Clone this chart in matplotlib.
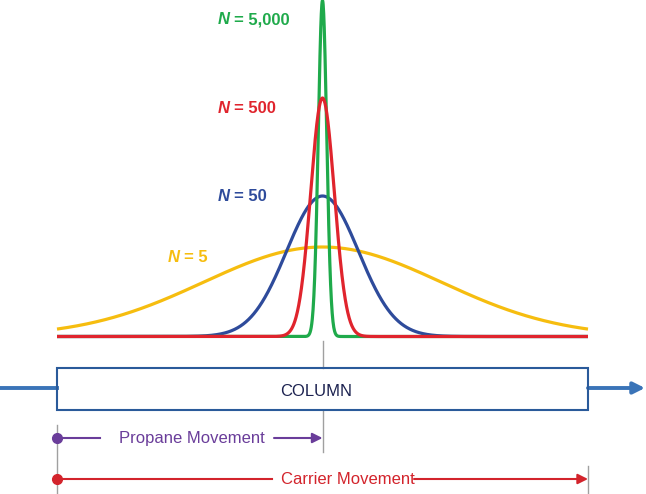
import numpy as np
import matplotlib.pyplot as plt

plt.rcParams['font.family'] = ['Liberation Sans', 'DejaVu Sans']

# Plate numbers and the peaks (pixel units)
plates = [5, 50, 500, 5000]
plate_labels = ['5', '50', '500', '5,000']
peak_heights = [89.5, 140.5, 238.5, 336.0]   # height above baseline
peak_widths = [119.0, 36.0, 11.8, 4.2]       # gaussian sigma
curve_colors = ['#f6bd0f', '#2e4b9b', '#e0242d', '#1faa4b']
label_pos = [(168, 257), (218, 196), (218, 108), (218, 20)]

center_x = 322.5
baseline_y = 336.5
x_start, x_end = 57, 588

fig = plt.figure(figsize=(6.46, 4.94), dpi=100)
ax = fig.add_axes([0, 0, 1, 1])
ax.set_xlim(0, 646)
ax.set_ylim(494, 0)
ax.axis('off')

# gray guide lines
ax.plot([center_x, center_x], [341, 368], color='#a0a0a0', lw=1)
ax.plot([center_x, center_x], [410, 452], color='#a0a0a0', lw=1)
ax.plot([x_start, x_start], [425, 494], color='#a0a0a0', lw=1)
ax.plot([x_end, x_end], [466, 494], color='#a0a0a0', lw=1)

# chromatogram peaks (draw order: yellow, blue, green, red)
x = np.linspace(x_start, x_end, 2000)
for i in [0, 1, 3, 2]:
    y = baseline_y - peak_heights[i] * np.exp(-(x - center_x) ** 2 / (2 * peak_widths[i] ** 2))
    ax.plot(x, y, color=curve_colors[i], lw=2.3, solid_capstyle='butt', zorder=3)

for i in range(len(plates)):
    lx, ly = label_pos[i]
    ax.text(lx, ly, 'N', color=curve_colors[i], fontsize=12, fontweight='bold',
            fontstyle='italic', va='center', ha='left')
    ax.text(lx + 15.5, ly, '= ' + plate_labels[i], color=curve_colors[i], fontsize=12,
            fontweight='bold', va='center', ha='left')

# column with carrier flow line
ax.plot([0, x_start], [388, 388], color='#3a74b8', lw=2.8)
ax.annotate('', xy=(645, 388), xytext=(x_end, 388),
            arrowprops=dict(arrowstyle='-|>', color='#3a74b8', lw=2.8,
                            mutation_scale=17, shrinkA=0, shrinkB=0))
ax.add_patch(plt.Rectangle((x_start, 368), x_end - x_start, 42, fill=False,
                           edgecolor='#2a5a9a', lw=1.5, zorder=4))
ax.text(316, 391, 'COLUMN', color='#1c2250', fontsize=12, ha='center', va='center')

# propane movement
purple = '#6a3d9a'
ax.plot([x_start], [438], 'o', color=purple, ms=7)
ax.plot([x_start, 100], [438, 438], color=purple, lw=1.5)
ax.text(192, 438, 'Propane Movement', color=purple, fontsize=12, ha='center', va='center')
ax.annotate('', xy=(center_x, 438), xytext=(274, 438),
            arrowprops=dict(arrowstyle='-|>', color=purple, lw=1.5,
                            mutation_scale=15, shrinkA=0, shrinkB=0))

# carrier movement
red = '#d3242c'
ax.plot([x_start], [479], 'o', color=red, ms=7)
ax.plot([x_start, 272], [479, 479], color=red, lw=1.5)
ax.text(348, 479, 'Carrier Movement', color=red, fontsize=12, ha='center', va='center')
ax.annotate('', xy=(x_end, 479), xytext=(414, 479),
            arrowprops=dict(arrowstyle='-|>', color=red, lw=1.5,
                            mutation_scale=15, shrinkA=0, shrinkB=0))

fig.savefig('out.png', dpi=100)
